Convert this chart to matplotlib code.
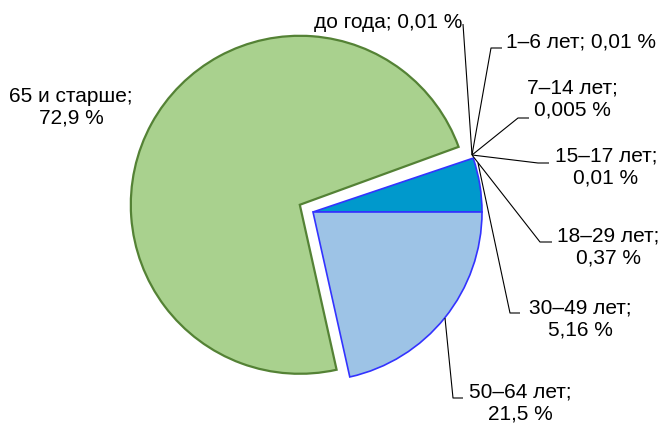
import matplotlib
matplotlib.use("Agg")
import matplotlib.pyplot as plt

# данные (доли, %)
labels = ["30–49 лет", "18–29 лет", "15–17 лет", "7–14 лет", "1–6 лет",
          "до года", "65 и старше", "50–64 лет"]
values = [5.16, 0.37, 0.01, 0.005, 0.01, 0.01, 72.9, 21.5]
value_text = ["5,16 %", "0,37 %", "0,01 %", "0,005 %", "0,01 %", "0,01 %",
              "72,9 %", "21,5 %"]

# мелкие сектора на исходной картинке не видны
face_colors = ["#0099cc", "none", "none", "none", "none",
               "none", "#a9d18e", "#9dc3e6"]
edge_colors = ["#3333ff", "none", "none", "none", "none",
               "none", "#548235", "#3333ff"]

plt.rcParams['font.family'] = ['Liberation Sans', 'DejaVu Sans']

W, H = 663, 424
CX, CY, R = 313, 212, 169


def px(x, y):
    """Пиксели картинки -> координаты осей (радиус пирога = 1)."""
    return (x - CX) / R, (CY - y) / R


fig = plt.figure(figsize=(W / 100, H / 100), dpi=100)
ax = fig.add_axes([0, 0, 1, 1])

explode = [0, 0, 0, 0, 0, 0, 0.089, 0]
wedges, _ = ax.pie(values, explode=explode, startangle=0, counterclock=True,
                   radius=1, center=(0, 0), colors=face_colors)
for w, fc, ec, lab in zip(wedges, face_colors, edge_colors, labels):
    w.set_facecolor(fc)
    w.set_edgecolor(ec)
    w.set_linewidth(1.6 if lab == "65 и старше" else 1.2)

# подписи: (центр текста, выравнивание, линия-выноска, в одну строку)
label_layout = {
    "до года": ((462, 22), 'right', [(472, 155), (463, 24)], True),
    "1–6 лет": ((506, 42), 'left', [(472, 155), (491, 48), (502, 48)], True),
    "7–14 лет": ((572, 99), 'center', [(472, 155), (518, 118), (529, 118)], False),
    "15–17 лет": ((606, 167), 'center', [(472, 155), (538, 163), (549, 163)], False),
    "18–29 лет": ((608, 247), 'center', [(472, 155), (540, 242), (552, 242)], False),
    "30–49 лет": ((580, 319), 'center', [(478, 163), (510, 313), (520, 313)], False),
    "50–64 лет": ((520, 403), 'center', [(445, 318), (453, 398), (463, 398)], False),
    "65 и старше": ((71, 107), 'center', None, False),
}

for lab, vt in zip(labels, value_text):
    (tx, ty), ha, line, one_line = label_layout[lab]
    text = f"{lab}; {vt}" if one_line else f"{lab};\n{vt}"
    x, y = px(tx, ty)
    ax.text(x, y, text, ha=ha, va='center', fontsize=15, color='black',
            multialignment='center', linespacing=1.2)
    if line:
        pts = [px(a, b) for a, b in line]
        ax.plot([p[0] for p in pts], [p[1] for p in pts], color='black',
                lw=0.8, solid_capstyle='butt')

ax.set_xlim(px(0, 0)[0], px(W, 0)[0])
ax.set_ylim(px(0, H)[1], px(0, 0)[1])
ax.set_aspect('auto')
ax.axis('off')

fig.savefig("out.png", dpi=100)
